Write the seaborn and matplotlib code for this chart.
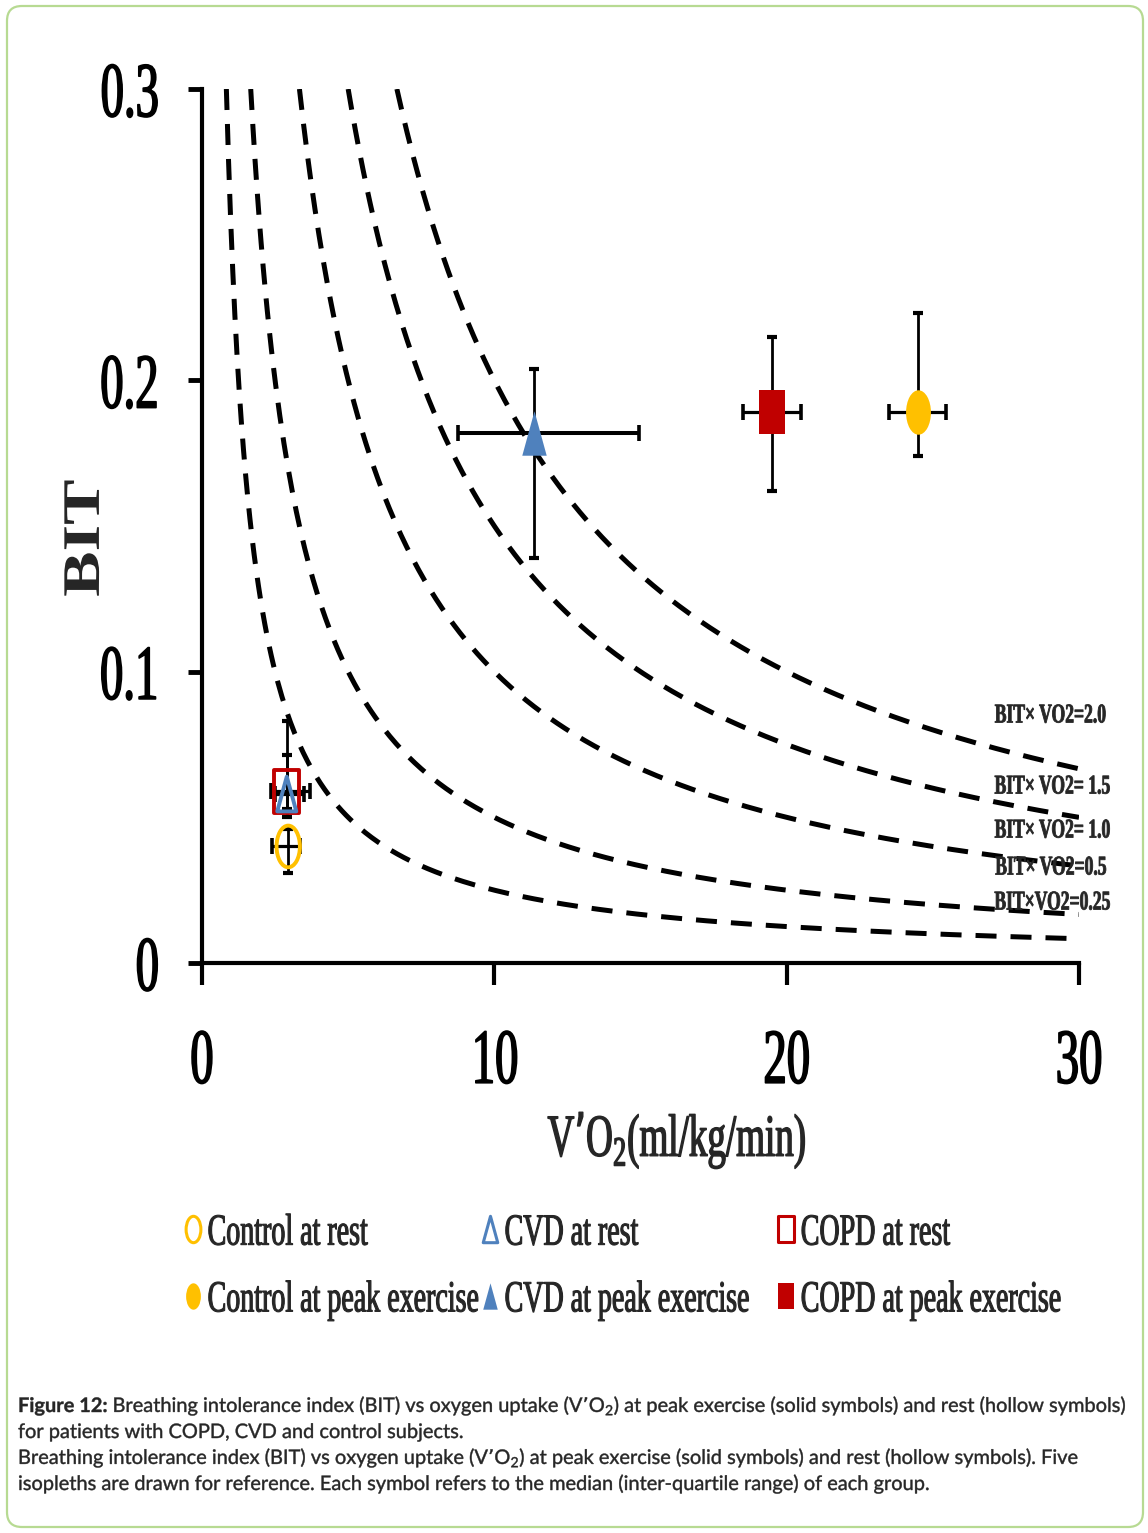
import numpy as np
import matplotlib
matplotlib.use('Agg')
import matplotlib.pyplot as plt
import seaborn as sns
from matplotlib.path import Path
from matplotlib.lines import Line2D
from matplotlib.patches import FancyBboxPatch
from matplotlib.patheffects import AbstractPathEffect
from matplotlib.transforms import Affine2D

# isopleths: BIT x VO2 = constant
iso_levels = [0.25, 0.5, 1.0, 1.5, 2.0]
iso_labels = ['BIT×VO2=0.25', 'BIT× VO2=0.5', 'BIT× VO2= 1.0', 'BIT× VO2= 1.5', 'BIT× VO2=2.0']

groups = ['Control', 'CVD', 'COPD']
colors = ['#FFC000', '#4F81BD', '#C00000']

# peak exercise, median and inter-quartile range
peak_vo2 = [24.5, 11.35, 19.5]
peak_vo2_lo = [23.5, 8.75, 18.5]
peak_vo2_hi = [25.45, 14.95, 20.5]
peak_bit = [0.189, 0.182, 0.189]
peak_bit_lo = [0.174, 0.139, 0.162]
peak_bit_hi = [0.223, 0.204, 0.215]

# rest, median and inter-quartile range
rest_vo2 = [2.95, 2.9, 2.9]
rest_vo2_lo = [2.4, 2.5, 2.35]
rest_vo2_hi = [3.35, 3.5, 3.7]
rest_bit = [0.040, 0.058, 0.059]
rest_bit_lo = [0.031, 0.053, 0.050]
rest_bit_hi = [0.046, 0.0715, 0.083]

x_ticks = [0, 10, 20, 30]
y_ticks = [0, 0.1, 0.2, 0.3]
y_ticklabels = ['0', '0.1', '0.2', '0.3']

caption = [
    'Breathing intolerance index (BIT) vs oxygen uptake (V’O$_\\mathregular{2}$) at peak exercise (solid symbols) and rest (hollow symbols)',
    'for patients with COPD, CVD and control subjects.',
    'Breathing intolerance index (BIT) vs oxygen uptake (V’O$_\\mathregular{2}$) at peak exercise (solid symbols) and rest (hollow symbols). Five',
    'isopleths are drawn for reference. Each symbol refers to the median (inter-quartile range) of each group.',
]


class Squeeze(AbstractPathEffect):
    # the original figure was stretched, so text glyphs are narrow and heavy
    def __init__(self, sx, anchor=0.5, stroke=0):
        super().__init__()
        self.sx = sx
        self.anchor = anchor
        self.stroke = stroke

    def draw_path(self, renderer, gc, tpath, affine, rgbFace=None):
        ext = tpath.get_extents()
        x0 = ext.x0 + self.anchor * ext.width
        squeeze = Affine2D().translate(-x0, 0).scale(self.sx, 1).translate(x0, 0)
        gc0 = renderer.new_gc()
        gc0.copy_properties(gc)
        if self.stroke:
            gc0.set_linewidth(self.stroke)
            gc0.set_foreground(rgbFace)
        renderer.draw_path(gc0, tpath, squeeze + affine, rgbFace)
        gc0.restore()


sns.set_style('ticks')
plt.rcParams['font.family'] = ['Liberation Serif', 'DejaVu Serif']

# tall markers
ellipse = Path.unit_circle().transformed(Affine2D().scale(0.56, 1))
rect = Path.unit_rectangle().transformed(Affine2D().translate(-0.5, -0.5).scale(1.16, 2))
tri = Path([(0, 1), (-0.55, -1), (0.55, -1), (0, 1)], closed=True)
shapes = [ellipse, tri, rect]

fig = plt.figure(figsize=(11.48, 15.33), dpi=100)
ax = fig.add_axes([202 / 1148, 570 / 1533, 877 / 1148, 874 / 1533])

# isopleths
for c in iso_levels:
    xs = np.linspace(c / 0.3, 30, 400)
    sns.lineplot(x=xs, y=c / xs, ax=ax, color='black', lw=3.6, linestyle=(0, (4.2, 2.8)),
                 estimator=None, sort=False, zorder=1)

iso_pos = [(29.1, 0.0206), (29.05, 0.0326), (29.1, 0.0453), (29.1, 0.0604), (29.03, 0.0848)]
for (tx, ty), lab in zip(iso_pos, iso_labels):
    ax.text(tx, ty, lab, ha='center', va='center', fontsize=19.5, weight='bold',
            path_effects=[Squeeze(0.65, 0.5, 0.6)])

# error bars
for vo2, lo_x, hi_x, bit, lo_y, hi_y, xlw in [
    (peak_vo2, peak_vo2_lo, peak_vo2_hi, peak_bit, peak_bit_lo, peak_bit_hi, [2.3, 2.9, 2.3]),
    (rest_vo2, rest_vo2_lo, rest_vo2_hi, rest_bit, rest_bit_lo, rest_bit_hi, [2.3, 2.3, 2.3]),
]:
    for i in range(3):
        ax.errorbar(vo2[i], bit[i], yerr=[[bit[i] - lo_y[i]], [hi_y[i] - bit[i]]], fmt='none',
                    ecolor='black', elinewidth=2, capsize=3.5, capthick=3, zorder=2)
        ax.errorbar(vo2[i], bit[i], xerr=[[vo2[i] - lo_x[i]], [hi_x[i] - vo2[i]]], fmt='none',
                    ecolor='black', elinewidth=xlw[i], capsize=6, capthick=2.6, zorder=2)

# markers
rest_size = [30, 25, 31]
for i in range(3):
    sns.scatterplot(x=[peak_vo2[i]], y=[peak_bit[i]], marker=shapes[i], s=32 ** 2, color=colors[i],
                    edgecolor=colors[i], linewidth=0, ax=ax, zorder=3, legend=False)
for i in [0, 2, 1]:
    sns.scatterplot(x=[rest_vo2[i]], y=[rest_bit[i]], marker=shapes[i], s=rest_size[i] ** 2,
                    color=colors[i], facecolor='none', edgecolor=colors[i], linewidth=2.8,
                    ax=ax, zorder=3, legend=False)

ax.set_xlim(0, 30)
ax.set_ylim(0, 0.3)
ax.set_xticks(x_ticks)
ax.set_xticklabels([str(v) for v in x_ticks])
ax.set_yticks(y_ticks)
ax.set_yticklabels(y_ticklabels)
for side in ['top', 'right']:
    ax.spines[side].set_visible(False)
for side in ['left', 'bottom']:
    ax.spines[side].set_linewidth(3)
    ax.spines[side].set_color('black')
ax.tick_params(axis='y', direction='out', length=10, width=3.5, pad=20, labelsize=56, colors='black')
ax.tick_params(axis='x', direction='out', length=16, width=3, pad=31, labelsize=56, colors='black')
for t in ax.get_yticklabels():
    t.set_path_effects([Squeeze(0.6, 1, 1.2)])
for t in ax.get_xticklabels():
    t.set_path_effects([Squeeze(0.6, 0.5, 1.2)])

ax.set_ylabel('BIT', fontsize=38, weight='bold')
ax.yaxis.set_label_coords(-0.105, 0.486)
ax.yaxis.label.set_path_effects([Squeeze(1.29)])
ax.set_xlabel('V’O$_\\mathregular{2}$(ml/kg/min)', fontsize=43)
ax.xaxis.set_label_coords(0.5416, -0.168)
ax.xaxis.label.set_path_effects([Squeeze(0.62, 0.5, 1.0)])

# legend, one column per group
rest_names = ['Control at rest', 'CVD at rest', 'COPD at rest']
peak_names = ['Control at peak exercise', 'CVD at peak exercise', 'COPD at peak exercise']
leg_x = [0.1603, 0.419, 0.677]
for i in range(3):
    h_rest = Line2D([], [], ls='none', marker=shapes[i], ms=19, mfc='none', mec=colors[i], mew=2.2)
    h_peak = Line2D([], [], ls='none', marker=shapes[i], ms=19, mfc=colors[i], mec=colors[i], mew=0)
    leg = fig.legend(handles=[h_rest, h_peak], labels=[rest_names[i], peak_names[i]],
                     loc='upper left', bbox_to_anchor=(leg_x[i], 0.2084), frameon=False,
                     fontsize=32, handlelength=0.4, handletextpad=0.115, labelspacing=0.6,
                     borderpad=0, borderaxespad=0)
    for t in leg.get_texts():
        t.set_path_effects([Squeeze(0.63, 0, 0.8)])

# caption
cap_size = 14.4
cap_fx = [Squeeze(1.0, 0, 0.3)]
cap_y = [1 - 1412 / 1533, 1 - 1438 / 1533, 1 - 1464 / 1533, 1 - 1490 / 1533]
head = fig.text(18 / 1148, cap_y[0], 'Figure 12:', family='Lato', weight='bold', fontsize=cap_size,
                va='baseline', path_effects=cap_fx)
ax.annotate(caption[0], xy=(1, cap_y[0]), xycoords=(head, 'figure fraction'),
            xytext=(3.5, 0), textcoords='offset points', family='Lato', fontsize=cap_size,
            va='baseline', ha='left', path_effects=cap_fx)
for line, y in zip(caption[1:], cap_y[1:]):
    fig.text(18 / 1148, y, line, family='Lato', fontsize=cap_size, va='baseline',
             path_effects=cap_fx)

frame = FancyBboxPatch((7 / 1148, 6 / 1533), 1136 / 1148, 1521 / 1533,
                       boxstyle='round,pad=0,rounding_size=0.013', mutation_aspect=1148 / 1533,
                       transform=fig.transFigure, fc='none', ec='#b7da92', lw=1.6)
fig.patches.append(frame)

fig.savefig('out.png', dpi=100)
